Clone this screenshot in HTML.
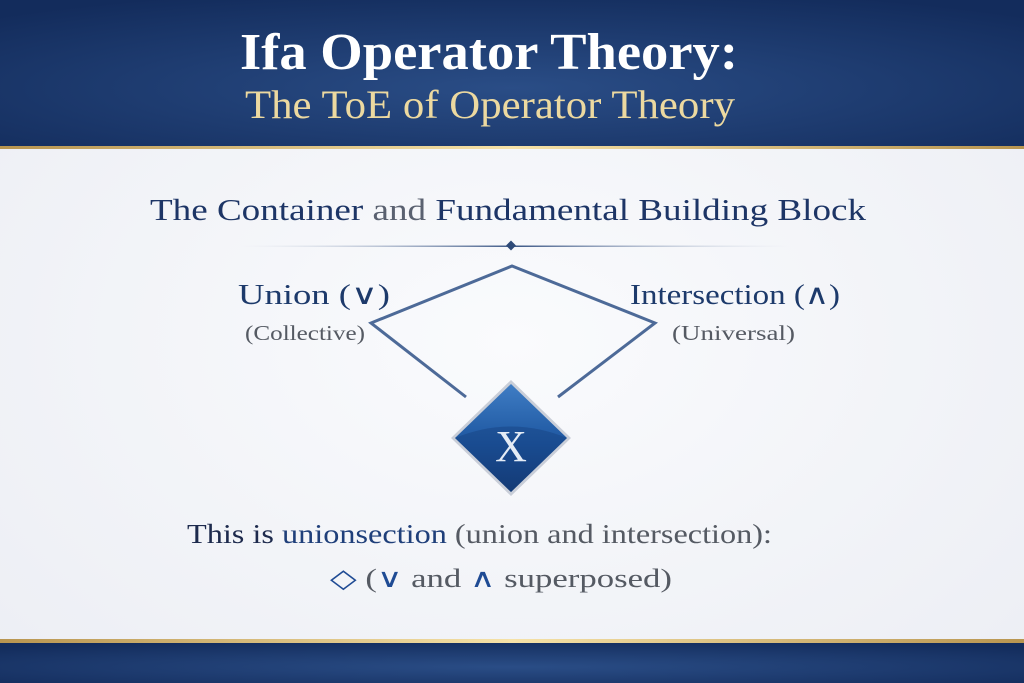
<!DOCTYPE html>
<html><head><meta charset="utf-8"><style>
html,body{margin:0;padding:0;width:1024px;height:683px;overflow:hidden;background:#f3f4f8}
svg{display:block}
text{font-family:"Liberation Serif","DejaVu Serif",serif}
</style></head><body>
<svg width="1024" height="683" viewBox="0 0 1024 683" xmlns="http://www.w3.org/2000/svg">
<defs>
<radialGradient id="hdr" cx="50%" cy="60%" r="70%">
<stop offset="0" stop-color="#2a4d86"/><stop offset="1" stop-color="#132c5c"/></radialGradient>
<linearGradient id="gold" x1="0" x2="1"><stop offset="0" stop-color="#b89550"/><stop offset="0.5" stop-color="#f6e2a8"/><stop offset="1" stop-color="#b89550"/></linearGradient>
<radialGradient id="bg" cx="50%" cy="50%" r="70%"><stop offset="0" stop-color="#fafbfd"/><stop offset="1" stop-color="#eceef4"/></radialGradient>
<linearGradient id="dia" x1="0" y1="0" x2="0" y2="1"><stop offset="0" stop-color="#3f7dc4"/><stop offset="0.55" stop-color="#1d56a0"/><stop offset="1" stop-color="#12366f"/></linearGradient>
<linearGradient id="ln" x1="0" x2="1"><stop offset="0" stop-color="#c7cfdd" stop-opacity="0"/><stop offset="0.5" stop-color="#3d5886"/><stop offset="1" stop-color="#c7cfdd" stop-opacity="0"/></linearGradient>
</defs>
<rect width="1024" height="683" fill="url(#bg)"/>
<rect width="1024" height="147" fill="url(#hdr)"/>
<rect y="146" width="1024" height="3" fill="url(#gold)"/>
<rect y="643" width="1024" height="40" fill="url(#hdr)"/>
<rect y="639" width="1024" height="4" fill="url(#gold)"/>
<text x="240" y="69" font-size="52" font-weight="bold" fill="#ffffff" textLength="498" lengthAdjust="spacingAndGlyphs">Ifa Operator Theory:</text>
<text x="245" y="118" font-size="40" fill="#ecd9a0" textLength="490" lengthAdjust="spacingAndGlyphs">The ToE of Operator Theory</text>
<text x="150" y="220" font-size="31" fill="#1d3566" textLength="716" lengthAdjust="spacingAndGlyphs">The Container <tspan fill="#5a6170">and</tspan> Fundamental Building Block</text>
<rect x="240" y="245.5" width="550" height="1.5" fill="url(#ln)"/>
<rect x="507.5" y="242" width="7" height="7" fill="#2e4a78" transform="rotate(45 511 245.5)"/>
<polyline points="466,397 371,323 512,266 655,323 558,397" fill="none" stroke="#4d6a98" stroke-width="3"/>
<polygon points="511,380 571,438 511,496 451,438" fill="#c9ced8"/>
<polygon points="511,384 567,438 511,492 455,438" fill="url(#dia)"/>
<path d="M455,438 Q511,415 567,438 L511,492 Z" fill="#16407f" opacity="0.45"/>
<text x="511" y="461" text-anchor="middle" font-size="44" fill="#e4ecf6" font-family="Liberation Sans,sans-serif">X</text>
<text x="238" y="304" font-size="28" fill="#1d3a6b" textLength="152" lengthAdjust="spacingAndGlyphs">Union (∨)</text>
<text x="245" y="340" font-size="21" fill="#555a63" textLength="120" lengthAdjust="spacingAndGlyphs">(Collective)</text>
<text x="630" y="304" font-size="28" fill="#1d3a6b" textLength="210" lengthAdjust="spacingAndGlyphs">Intersection (∧)</text>
<text x="672" y="340" font-size="21" fill="#555a63" textLength="123" lengthAdjust="spacingAndGlyphs">(Universal)</text>
<text x="187" y="543" font-size="27" fill="#1d2a4d" textLength="585" lengthAdjust="spacingAndGlyphs">This is <tspan fill="#1f3f7a">unionsection</tspan> <tspan fill="#555a63">(union and intersection):</tspan></text>
<text x="330" y="587" font-size="26" fill="#555a63" textLength="342" lengthAdjust="spacingAndGlyphs"><tspan fill="#1f4b94">◇</tspan> (<tspan fill="#1f4b94">∨</tspan>  and <tspan fill="#1f4b94">∧</tspan> superposed)</text>
</svg>
</body></html>
